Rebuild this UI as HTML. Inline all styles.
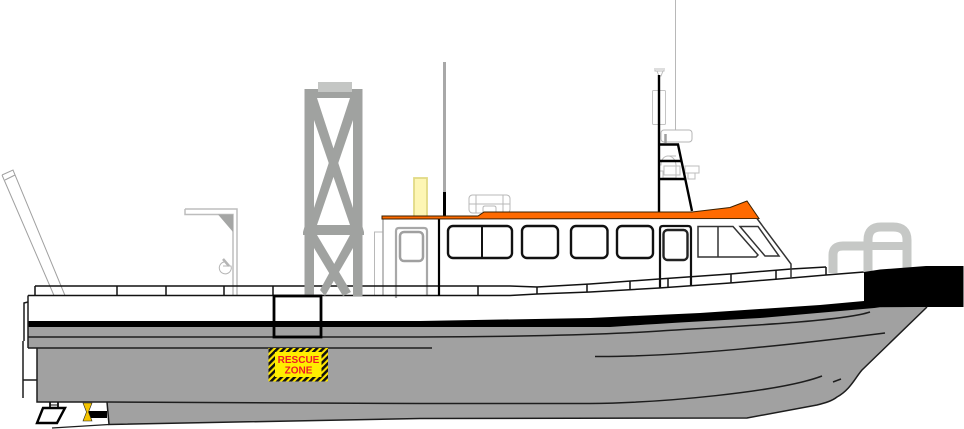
<!DOCTYPE html>
<html><head><meta charset="utf-8"><style>
html,body{margin:0;padding:0;background:#fff;width:964px;height:429px;overflow:hidden}
svg{display:block}
</style></head><body>
<svg width="964" height="429" viewBox="0 0 964 429" xmlns="http://www.w3.org/2000/svg" fill="none">
<defs>
<pattern id="hz" width="4.600" height="4.600" patternUnits="userSpaceOnUse" patternTransform="rotate(45)">
<rect width="4.600" height="4.600" fill="#ffe600"/><rect width="2.500" height="4.600" fill="#111"/>
</pattern>
</defs>

<!-- hull gray -->
<path d="M28 321H590L840 308H880L927 307L862 370C857 378 852 388 837 397C830 402 822 404 817 405L747 418L420 418.500L109 424.500L107 402H37V348H28Z" fill="#a1a1a1"/>

<!-- white superstructure -->
<path d="M383 219H759L791 264V279L439 296H383Z" fill="#fff"/>
<path d="M35 286H510L659 279L826 267L864 272V295H35Z" fill="#fff"/>
<path d="M28 295.500H510L659 288L730 283L864 272.500V301L820 305L700 313L590 318L420 321H28Z" fill="#fff"/>

<!-- left ramp -->
<g stroke="#a0a0a0" stroke-width="1">
<path d="M2 175L13 170L65 295.500M2 175L54 295.500M5 180L15 175"/>
</g>

<!-- davit -->
<g stroke="#bdbdbd" stroke-width="1.500">
<path d="M185 209H237V295M185 209V214.500H233V295"/>
</g>
<path d="M218 214.500H233V232Z" fill="#a5a6a5"/>
<g stroke="#b5b5b5" stroke-width="1">
<path d="M224 262A6 6 0 1 0 231 266H223"/>
<path d="M223 259L229 266" stroke-width="2.500"/>
</g>

<!-- aft cabin light lines -->
<g stroke="#b8b8b8" stroke-width="1">
<path d="M374.500 296V232H383"/>
</g>
<path d="M383 219V296" stroke="#a8a8a8" stroke-width="1.500"/>
<path d="M396 298V231Q396 228 399 228H424Q427 228 427 231V296" stroke="#a8a8a8" stroke-width="2.200"/>
<rect x="400" y="232" width="23" height="29" rx="4" stroke="#a0a0a0" stroke-width="2.500"/>

<!-- yellow box, whip -->
<rect x="414" y="178" width="13" height="39" fill="#fdf6b4" stroke="#e2da85" stroke-width="1.800"/>
<path d="M444.500 62V192" stroke="#a8a8a8" stroke-width="3"/>
<path d="M444.500 192V216" stroke="#000" stroke-width="3"/>

<!-- liferaft -->
<g stroke="#b8b8b8" stroke-width="1">
<rect x="469" y="195" width="41" height="18" rx="3.500"/>
<path d="M469 204H510M476 195V213M503 195V213"/>
<path d="M483 213V208Q483 206 485 206H494Q496 206 496 208V213"/>
</g>

<!-- mast items -->
<path d="M675.500 0V140" stroke="#b8b8b8" stroke-width="1"/>
<rect x="652.500" y="90.500" width="13" height="34" rx="1" stroke="#c4c4c4" stroke-width="1"/>
<rect x="661" y="130" width="31" height="12" rx="3" stroke="#b5b5b5" stroke-width="1" fill="#fff"/>
<path d="M665.500 134V143" stroke="#a0a0a0" stroke-width="2.500"/>
<g stroke="#bdbdbd" stroke-width="1">
<path d="M655 68V71H664V68M657 71L659 76H661L663 71M656 69H663"/>
<path d="M661 165C661 153 675 153 676 165V178H663V171H659V165ZM667 156H676"/>
<rect x="685" y="166" width="14" height="7"/><rect x="688" y="173" width="7" height="6"/>
<path d="M664 166H680V175H664Z"/>
</g>
<g stroke="#000" stroke-width="2.400">
<path d="M659 75V212"/>
<path d="M659 144.500H678L692 211"/>
<path d="M659 161H682M659 179H685.500"/>
</g>

<!-- rails -->
<g stroke="#111" stroke-width="1.500">
<path d="M35 286H510L537 287L590 284L659 279L730 274L791 269L826 267"/>
<path d="M28 295.500H510L537 294L590 292L659 288L730 283L791 278L826 275L864 272"/>
<path d="M35 286V295M117 286V295M166 286V295M224 286V295M273 286V295M478 286V295M537 287V294M587 284V292M630 281V289M668 279V288M731 274V283M776 270V279M826 267V275"/>
</g>
<path d="M439 219V296" stroke="#000" stroke-width="2.200"/>

<!-- tower -->
<g fill="#a0a2a0">
<rect x="304.500" y="89" width="9.500" height="207"/>
<rect x="353" y="89" width="9.500" height="207"/>
<rect x="304.500" y="89" width="58" height="9"/>
<path d="M303 232L305 225H362L364 232V235H303Z"/>
<path d="M317 98L353 208V225H350L314 120V98Z"/>
<path d="M350 98L314 208V225H317L353 120V98Z"/>
<path d="M317 235L351 292L343 296L314 248V235Z"/>
<path d="M350 235L320 290L325 296L353 248V235Z"/>
</g>
<rect x="318" y="82" width="34" height="10" fill="#c4c6c4"/>

<!-- roof -->
<path d="M382 216H478L484 212H692L730 207.500L747 201L759 218.500L382 219Z" fill="#ff6a00" stroke="#3a2000" stroke-width="1"/>

<!-- windows -->
<g stroke="#111" stroke-width="2.400" fill="#fff">
<rect x="448" y="226" width="64" height="32" rx="5"/>
<rect x="522" y="226" width="36" height="32" rx="5"/>
<rect x="571" y="226" width="36.500" height="32" rx="5"/>
<rect x="617" y="226" width="36" height="32" rx="5"/>
</g>
<path d="M482 226V258" stroke="#111" stroke-width="2"/>
<!-- door -->
<path d="M660 288V229Q660 226 663 226H688Q691 226 691 229V286" stroke="#111" stroke-width="2.200"/>
<rect x="663.500" y="230" width="24" height="30" rx="4" stroke="#222" stroke-width="2.400"/>
<!-- front windows -->
<g stroke="#333" stroke-width="1.500">
<path d="M698 226.500H733L758 255L756 257H698Z"/>
<path d="M718 226.500V257"/>
<path d="M740 226.500H758L779 256H765Z"/>
<path d="M757 218.500L791 264V278"/>
</g>

<!-- grab rail bow -->
<g stroke="#c6c8c6" stroke-width="9" fill="none">
<path d="M833 273V255Q833 246 843 246H868"/>
<path d="M868 272V240Q868 227 881 227H893Q907 227 907 240V268"/>
<path d="M872 246H905" stroke-width="8"/>
</g>

<!-- black stripe and bow block -->
<path d="M28 321H420L590 318L700 313L820 305L864 301V272L880 269.500L926 266L963.500 266V307H927L880 307.500L760 318L680 322.500Q640 325 610 327H28Z" fill="#000"/>

<!-- hull lines -->
<g stroke="#1d1d1d" stroke-width="1.500">
<path d="M28 295.500V348"/>
<path d="M28 337H420C500 337 600 335 660 331C720 327 840 322 870 312"/>
<path d="M28 348H432"/>
<path d="M595 356.500C680 357 790 345 885 333"/>
<path d="M37 348V402H107L420 403.500H590C660 403 780 392 822 376"/>
<path d="M833 382L841 379"/>
<path d="M107 402L109 424.500L420 418.500L747 418L817 405C825 403 832 401 837 397C850 390 855 378 862 370L927 307"/>
<path d="M52 428L109 424.500" stroke-width="1.200"/>
<path d="M28 302L24 303V341M23 341V398M23 380H37"/>
</g>

<!-- square frame -->
<rect x="274" y="296" width="47" height="41" stroke="#000" stroke-width="2.800"/>

<!-- rescue sign -->
<rect x="268.500" y="348" width="59.500" height="33.500" fill="url(#hz)"/>
<rect x="275" y="352" width="46.500" height="25" fill="#ffee00"/>
<text x="298.500" y="363" font-family="'Liberation Sans',sans-serif" font-size="10" font-weight="700" fill="#ee1c25" text-anchor="middle">RESCUE</text>
<text x="298.500" y="373.500" font-family="'Liberation Sans',sans-serif" font-size="10" font-weight="700" fill="#ee1c25" text-anchor="middle">ZONE</text>

<!-- stern gear -->
<path d="M50 402V408M58 402V408" stroke="#111" stroke-width="1.800"/>
<path d="M50 405H58" stroke="#111" stroke-width="1"/>
<path d="M43 408H65L57 423H37Z" stroke="#000" stroke-width="2.400" fill="#fff"/>
<rect x="88" y="411" width="19" height="7" fill="#000"/>
<path d="M83 403H92L88.500 412L92 421H83L86.500 412Z" fill="#f5c400" stroke="#222" stroke-width=".6"/>
</svg>
</body></html>
